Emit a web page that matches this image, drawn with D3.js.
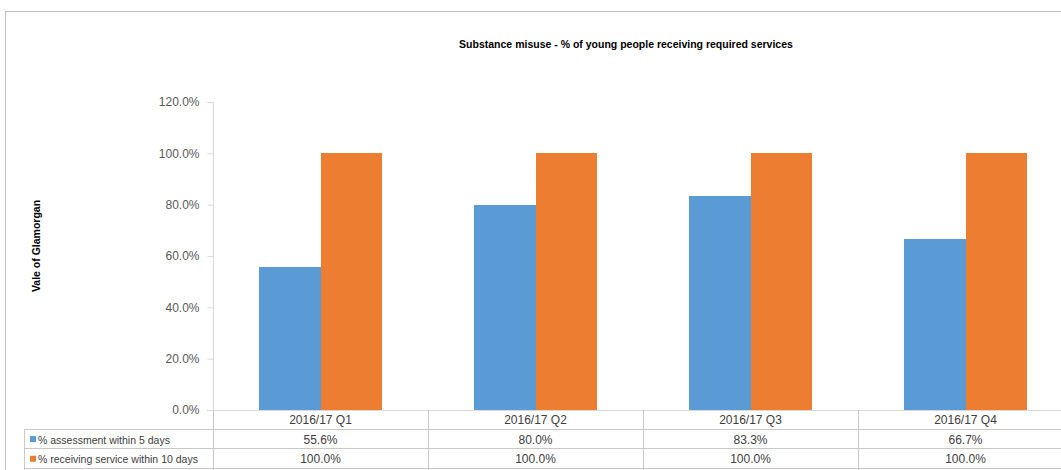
<!DOCTYPE html>
<html>
<head>
<meta charset="utf-8">
<script src="https://cdn.jsdelivr.net/npm/d3@7"></script>
<style>
  body { margin: 0; background: #fff; }
  svg { display: block; font-family: "Liberation Sans", Arial, sans-serif; }
</style>
</head>
<body>
<svg id="chart" width="1061" height="470"></svg>
<script>
const categories = ["2016/17 Q1", "2016/17 Q2", "2016/17 Q3", "2016/17 Q4"];
const seriesNames = ["% assessment within 5 days", "% receiving service within 10 days"];
const assessmentValues = [55.6, 80.0, 83.3, 66.7];
const serviceValues = [100.0, 100.0, 100.0, 100.0];
const yTicks = [0, 20, 40, 60, 80, 100, 120];
const colors = ["#5b9bd5", "#ed7d31"];
const titleText = "Substance misuse - % of young people receiving required services";
const yAxisTitle = "Vale of Glamorgan";

const seriesValues = [assessmentValues, serviceValues];

const svg = d3.select("#chart");
const W = 1061, H = 470;

// outer frame
svg.append("rect").attr("x", 5.5).attr("y", 11.5).attr("width", W + 10).attr("height", H + 10)
  .attr("fill", "none").attr("stroke", "#bfbfbf").attr("stroke-width", 1);

const plot = { left: 213, right: 1073, top: 102, bottom: 410 };

const x0 = d3.scaleBand().domain(categories).range([plot.left, plot.right]).padding(0);
const x1 = d3.scaleBand().domain(seriesNames).range([0, x0.bandwidth()]).paddingInner(0).paddingOuter(0.75);
const y = d3.scaleLinear().domain([0, 120]).range([plot.bottom, plot.top]);

// title
svg.append("text").attr("x", 626).attr("y", 48).attr("text-anchor", "middle")
  .attr("font-size", 10.5).attr("font-weight", "bold").attr("fill", "#000")
  .text(titleText);

// y-axis title
svg.append("text").attr("transform", `translate(40,${(plot.top + plot.bottom) / 2 - 10}) rotate(-90)`)
  .attr("text-anchor", "middle").attr("font-size", 10.5).attr("font-weight", "bold").attr("fill", "#000")
  .text(yAxisTitle);

// y axis
const yAxis = d3.axisLeft(y).tickValues(yTicks).tickSize(6).tickPadding(8)
  .tickFormat(d => d3.format(".1f")(d) + "%");
const gy = svg.append("g").attr("transform", `translate(${plot.left + 0.5},0)`).call(yAxis);
gy.select(".domain").attr("stroke", "#d9d9d9").attr("d", `M-6,${y(120) + 0.5}H0V${plot.bottom}`);
gy.selectAll(".tick line").attr("stroke", "#d9d9d9");
gy.selectAll(".tick text").attr("fill", "#595959").attr("font-size", 12)
  .attr("font-family", "'Liberation Sans', Arial, sans-serif");

// bars
const groups = svg.append("g").selectAll("g").data(categories).join("g")
  .attr("transform", d => `translate(${x0(d)},0)`);
groups.selectAll("rect")
  .data((c, i) => seriesNames.map((s, k) => ({ s, v: seriesValues[k][i], k })))
  .join("rect")
  .attr("x", d => x1(d.s))
  .attr("y", d => y(d.v))
  .attr("width", x1.bandwidth() + (d => 0)())
  .attr("height", d => y(0) - y(d.v))
  .attr("fill", d => colors[d.k])
  .attr("shape-rendering", "crispEdges");

// data table
const rowH = 19.7;
const tableTop = plot.bottom;
const tableLeft = 24.5;
const lineColor = "#c8c8c8";
const tbl = svg.append("g");

// category axis line (top of table)
tbl.append("line").attr("x1", plot.left - 6).attr("x2", W).attr("y1", tableTop + 0.5).attr("y2", tableTop + 0.5)
  .attr("stroke", "#d9d9d9");
// horizontal row lines
[1, 2, 3].forEach(r => {
  const yy = Math.round(tableTop + r * rowH) - 0.5;
  tbl.append("line").attr("x1", tableLeft).attr("x2", W).attr("y1", yy).attr("y2", yy).attr("stroke", lineColor);
});
// left border of data rows
tbl.append("line").attr("x1", tableLeft).attr("x2", tableLeft)
  .attr("y1", Math.round(tableTop + rowH) - 0.5).attr("y2", H).attr("stroke", lineColor);
// vertical column lines
categories.forEach(c => {
  const xx = Math.round(x0(c)) + 0.5;
  tbl.append("line").attr("x1", xx).attr("x2", xx).attr("y1", tableTop).attr("y2", H).attr("stroke", lineColor);
});
// category labels
tbl.selectAll("text.cat").data(categories).join("text").attr("class", "cat")
  .attr("x", d => x0(d) + x0.bandwidth() / 2).attr("y", tableTop + rowH / 2 + 4)
  .attr("text-anchor", "middle").attr("font-size", 12).attr("fill", "#404040").text(d => d);
// series rows
seriesNames.forEach((s, k) => {
  const rowTop = tableTop + (k + 1) * rowH;
  const cy = rowTop + rowH / 2;
  tbl.append("rect").attr("x", 30).attr("y", cy - 3.5).attr("width", 6).attr("height", 6).attr("fill", colors[k]);
  tbl.append("text").attr("x", 38).attr("y", cy + 4).attr("font-size", 10.5).attr("fill", "#404040").text(s);
  tbl.selectAll(null).data(categories).join("text")
    .attr("x", d => x0(d) + x0.bandwidth() / 2).attr("y", cy + 4)
    .attr("text-anchor", "middle").attr("font-size", 12).attr("fill", "#404040")
    .text((d, i) => d3.format(".1f")(seriesValues[k][i]) + "%");
});
</script>
</body>
</html>
